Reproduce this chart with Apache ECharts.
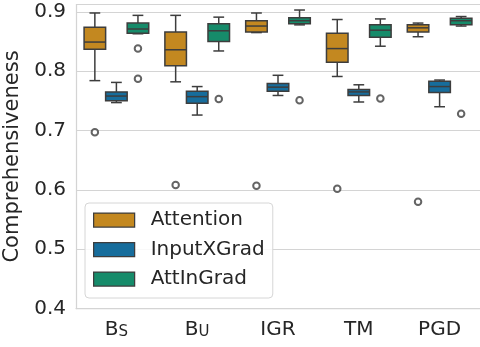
<!DOCTYPE html>
<html>
<head>
<meta charset="utf-8">
<script src="https://cdn.jsdelivr.net/npm/echarts@6/dist/echarts.min.js"></script>
<style>
html,body{margin:0;padding:0;background:#fff;}
#c{width:480px;height:347px;}
</style>
</head>
<body>
<div id="c"></div>
<script>
// ---- data ----
const categories = ['B_S', 'B_U', 'IGR', 'TM', 'PGD'];
const yTicks = [0.4, 0.5, 0.6, 0.7, 0.8, 0.9];
const seriesNames = ['Attention', 'InputXGrad', 'AttInGrad'];
// [lower whisker, Q1, median, Q3, upper whisker]
const attentionBoxes = [
  [0.784, 0.837, 0.849, 0.874, 0.898],
  [0.782, 0.809, 0.836, 0.866, 0.894],
  [0.865, 0.866, 0.876, 0.885, 0.898],
  [0.791, 0.815, 0.838, 0.864, 0.887],
  [0.858, 0.866, 0.873, 0.878, 0.881]
];
const inputXGradBoxes = [
  [0.747, 0.750, 0.758, 0.765, 0.781],
  [0.726, 0.746, 0.757, 0.766, 0.774],
  [0.759, 0.766, 0.773, 0.779, 0.793],
  [0.748, 0.759, 0.765, 0.769, 0.777],
  [0.740, 0.764, 0.774, 0.783, 0.785]
];
const attInGradBoxes = [
  [0.863, 0.864, 0.871, 0.881, 0.894],
  [0.834, 0.850, 0.868, 0.880, 0.891],
  [0.878, 0.880, 0.885, 0.890, 0.903],
  [0.842, 0.857, 0.869, 0.878, 0.888],
  [0.876, 0.878, 0.885, 0.889, 0.892]
];
// outliers: [category index, value]
const attentionOutliers = [[0, 0.697], [1, 0.608], [2, 0.607], [3, 0.602], [4, 0.580]];
const inputXGradOutliers = [];
const attInGradOutliers = [[0, 0.838], [0, 0.787], [1, 0.753], [2, 0.751], [3, 0.754], [4, 0.728]];

// ---- styling ----
const COLORS = ['#c38820', '#176d9c', '#168b6a'];
const LINE = '#3d3d3d';
const GRIDC = '#d4d4d4';
const TEXT = '#262626';
const FONT = 'DejaVu Sans';

const boxSets = [attentionBoxes, inputXGradBoxes, attInGradBoxes];
const outSets = [attentionOutliers, inputXGradOutliers, attInGradOutliers];
const offsets = [-1, 0, 1];

function makeRender(k, color) {
  return function (params, api) {
    const cat = api.value(0);
    const bw = api.size([1, 0])[0];
    const w = bw * 0.8 / 3;
    const cx = api.coord([cat, 0.5])[0] + k * w;
    const y = v => api.coord([cat, v])[1];
    const yMin = y(api.value(1)), yQ1 = y(api.value(2)), yMed = y(api.value(3)),
          yQ3 = y(api.value(4)), yMax = y(api.value(5));
    const ls = { stroke: LINE, lineWidth: 1.5, fill: null };
    return {
      type: 'group',
      children: [
        { type: 'line', shape: { x1: cx, y1: yQ3, x2: cx, y2: yMax }, style: ls },
        { type: 'line', shape: { x1: cx, y1: yQ1, x2: cx, y2: yMin }, style: ls },
        { type: 'line', shape: { x1: cx - w / 4, y1: yMax, x2: cx + w / 4, y2: yMax }, style: ls },
        { type: 'line', shape: { x1: cx - w / 4, y1: yMin, x2: cx + w / 4, y2: yMin }, style: ls },
        { type: 'rect', shape: { x: cx - w / 2, y: yQ3, width: w, height: yQ1 - yQ3 },
          style: { fill: color, stroke: LINE, lineWidth: 1.5 } },
        { type: 'line', shape: { x1: cx - w / 2, y1: yMed, x2: cx + w / 2, y2: yMed }, style: ls }
      ]
    };
  };
}

const series = [];
seriesNames.forEach((name, i) => {
  series.push({
    name: name,
    type: 'custom',
    itemStyle: { color: COLORS[i] },
    encode: { x: 0, y: [1, 2, 3, 4, 5] },
    data: boxSets[i].map((b, c) => [c].concat(b)),
    renderItem: makeRender(offsets[i], COLORS[i]),
    z: 2
  });
});
seriesNames.forEach((name, i) => {
  series.push({
    name: name + ' outliers',
    type: 'scatter',
    symbol: 'emptyCircle',
    symbolSize: 6.5,
    symbolOffset: [offsets[i] * 21.55, 0],
    itemStyle: { color: LINE, borderWidth: 1.1 },
    data: outSets[i],
    z: 3
  });
});

const chart = echarts.init(document.getElementById('c'), null, { renderer: 'canvas' });
chart.setOption({
  animation: false,
  backgroundColor: '#ffffff',
  textStyle: { fontFamily: FONT },
  grid: { left: 76, right: 0, top: 4.5, bottom: 38.5, containLabel: false, outerBoundsMode: 'none' },
  legend: {
    orient: 'vertical',
    left: 85,
    top: 203,
    padding: [6, 8, 8, 8],
    itemWidth: 41,
    itemHeight: 14,
    itemGap: 7.5,
    icon: 'rect',
    backgroundColor: 'rgba(255,255,255,0.85)',
    borderColor: '#d6d6d6',
    borderWidth: 1,
    borderRadius: 4,
    textStyle: { fontSize: 20, color: TEXT, fontFamily: FONT, lineHeight: 22, padding: [0, 0, 0, 11] },
    data: seriesNames.map((n, i) => ({
      name: n,
      itemStyle: { color: COLORS[i], borderColor: LINE, borderWidth: 1.25 }
    }))
  },
  xAxis: {
    type: 'category',
    data: categories,
    boundaryGap: true,
    axisLine: { show: true, lineStyle: { color: GRIDC, width: 1.25 } },
    axisTick: { show: false },
    splitLine: { show: false },
    axisLabel: {
      interval: 0,
      margin: 1,
      color: TEXT,
      fontSize: 20,
      fontFamily: FONT,
      formatter: function (v) {
        const parts = v.split('_');
        if (parts.length === 2) return '{b|' + parts[0] + '}{s|' + parts[1] + '}';
        return '{b|' + v + '}';
      },
      rich: {
        b: { fontSize: 20, lineHeight: 30, verticalAlign: 'bottom', color: TEXT, fontFamily: FONT },
        s: { fontSize: 15, lineHeight: 20, verticalAlign: 'bottom', color: TEXT, fontFamily: FONT }
      }
    }
  },
  yAxis: {
    type: 'value',
    min: 0.4,
    max: 0.9123,
    interval: 0.1,
    name: 'Comprehensiveness',
    nameLocation: 'middle',
    nameGap: 43,
    nameTextStyle: { fontSize: 21, color: TEXT, fontFamily: FONT },
    axisLine: { show: true, lineStyle: { color: GRIDC, width: 1.25 } },
    axisTick: { show: false },
    splitLine: { show: true, lineStyle: { color: GRIDC, width: 1 } },
    axisLabel: {
      margin: 10,
      color: TEXT,
      fontSize: 20,
      fontFamily: FONT,
      padding: [5, 0, 0, 0],
      showMaxLabel: false,
      formatter: function (v) {
        const hit = yTicks.find(t => Math.abs(t - v) < 1e-6);
        return hit === undefined ? '' : hit.toFixed(1);
      }
    }
  },
  series: series
});
</script>
</body>
</html>
